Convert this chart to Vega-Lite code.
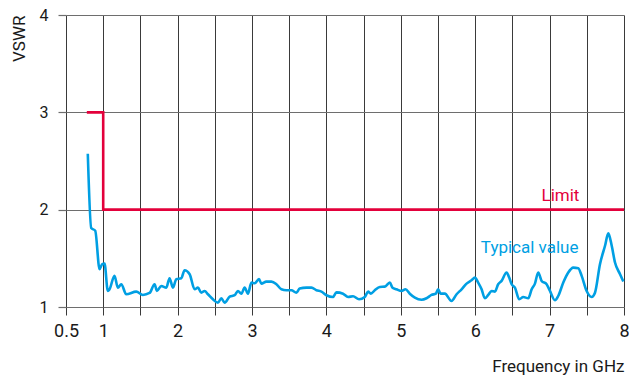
{
  "$schema": "https://vega.github.io/schema/vega-lite/v6.json",
  "width": 558,
  "height": 292,
  "autosize": "none",
  "padding": {"left": 66, "top": 15, "right": 5, "bottom": 68},
  "config": {
    "view": {"stroke": null},
    "font": "Roboto"
  },
  "datasets": {
    "typical": [
      {"f":0.793,"v":2.574},{"f":0.839,"v":1.811},{"f":0.893,"v":1.784},{"f":0.951,"v":1.389},{"f":0.987,"v":1.44},{"f":1.018,"v":1.446},{"f":1.062,"v":1.165},{"f":1.085,"v":1.182},{"f":1.152,"v":1.32},{"f":1.197,"v":1.199},{"f":1.243,"v":1.234},{"f":1.31,"v":1.131},{"f":1.444,"v":1.158},{"f":1.533,"v":1.124},{"f":1.623,"v":1.144},{"f":1.691,"v":1.234},{"f":1.722,"v":1.165},{"f":1.781,"v":1.216},{"f":1.848,"v":1.199},{"f":1.892,"v":1.296},{"f":1.937,"v":1.199},{"f":1.983,"v":1.286},{"f":2.05,"v":1.296},{"f":2.094,"v":1.378},{"f":2.162,"v":1.337},{"f":2.229,"v":1.182},{"f":2.273,"v":1.199},{"f":2.319,"v":1.147},{"f":2.363,"v":1.165},{"f":2.408,"v":1.131},{"f":2.475,"v":1.079},{"f":2.542,"v":1.044},{"f":2.588,"v":1.09},{"f":2.632,"v":1.044},{"f":2.7,"v":1.106},{"f":2.767,"v":1.121},{"f":2.811,"v":1.165},{"f":2.857,"v":1.137},{"f":2.901,"v":1.199},{"f":2.946,"v":1.137},{"f":2.992,"v":1.251},{"f":3.036,"v":1.244},{"f":3.094,"v":1.286},{"f":3.126,"v":1.24},{"f":3.193,"v":1.261},{"f":3.261,"v":1.261},{"f":3.328,"v":1.234},{"f":3.395,"v":1.182},{"f":3.462,"v":1.172},{"f":3.53,"v":1.172},{"f":3.597,"v":1.147},{"f":3.641,"v":1.189},{"f":3.732,"v":1.199},{"f":3.799,"v":1.199},{"f":3.866,"v":1.172},{"f":3.933,"v":1.158},{"f":4.001,"v":1.121},{"f":4.089,"v":1.103},{"f":4.135,"v":1.15},{"f":4.224,"v":1.137},{"f":4.291,"v":1.103},{"f":4.358,"v":1.11},{"f":4.439,"v":1.079},{"f":4.516,"v":1.103},{"f":4.56,"v":1.158},{"f":4.597,"v":1.137},{"f":4.65,"v":1.172},{"f":4.718,"v":1.206},{"f":4.785,"v":1.209},{"f":4.852,"v":1.251},{"f":4.889,"v":1.199},{"f":4.942,"v":1.182},{"f":5.01,"v":1.165},{"f":5.063,"v":1.182},{"f":5.121,"v":1.137},{"f":5.189,"v":1.096},{"f":5.279,"v":1.075},{"f":5.346,"v":1.09},{"f":5.413,"v":1.124},{"f":5.471,"v":1.137},{"f":5.502,"v":1.182},{"f":5.534,"v":1.137},{"f":5.592,"v":1.137},{"f":5.682,"v":1.062},{"f":5.75,"v":1.131},{"f":5.817,"v":1.182},{"f":5.884,"v":1.24},{"f":5.951,"v":1.275},{"f":5.996,"v":1.302},{"f":6.04,"v":1.251},{"f":6.086,"v":1.182},{"f":6.13,"v":1.09},{"f":6.175,"v":1.124},{"f":6.22,"v":1.165},{"f":6.265,"v":1.158},{"f":6.309,"v":1.234},{"f":6.355,"v":1.268},{"f":6.422,"v":1.354},{"f":6.457,"v":1.302},{"f":6.49,"v":1.234},{"f":6.534,"v":1.199},{"f":6.592,"v":1.079},{"f":6.646,"v":1.103},{"f":6.713,"v":1.09},{"f":6.759,"v":1.182},{"f":6.803,"v":1.24},{"f":6.847,"v":1.354},{"f":6.893,"v":1.268},{"f":6.96,"v":1.234},{"f":7.005,"v":1.165},{"f":7.072,"v":1.069},{"f":7.116,"v":1.113},{"f":7.184,"v":1.251},{"f":7.251,"v":1.354},{"f":7.318,"v":1.405},{"f":7.385,"v":1.399},{"f":7.431,"v":1.32},{"f":7.498,"v":1.165},{"f":7.566,"v":1.103},{"f":7.61,"v":1.147},{"f":7.677,"v":1.44},{"f":7.745,"v":1.629},{"f":7.789,"v":1.756},{"f":7.835,"v":1.629},{"f":7.879,"v":1.457},{"f":7.947,"v":1.337},{"f":7.991,"v":1.261}
    ],
    "limit": [
      {"i":0,"f":0.78,"v":3},{"i":1,"f":1.0,"v":3},{"i":2,"f":1.0,"v":2},{"i":3,"f":8.0,"v":2}
    ],
    "labels": [
      {"f":7.146,"v":2.086,"t":"Limit","s":"Limit"},
      {"f":6.732,"v":1.559,"t":"Typical value","s":"Typical"}
    ]
  },
  "layer": [
    {
      "data": {"name": "typical"},
      "mark": {"type": "line", "color": "#009fe3", "strokeWidth": 2.6, "interpolate": "monotone"},
      "encoding": {
        "x": {
          "field": "f", "type": "quantitative",
          "scale": {"domain": [0.5, 8], "nice": false, "zero": false},
          "axis": {
            "values": [0.5,1,1.5,2,2.5,3,3.5,4,4.5,5,5.5,6,6.5,7,7.5,8],
            "tickCount": 40,
            "labelExpr": "indexof([0.5,1,2,3,4,5,6,7,8], datum.value) >= 0 ? format(datum.value, '~g') : ''",
            "labelOverlap": false, "labelFlush": false,
            "grid": true, "gridColor": "#3a3a3a", "gridWidth": 1, "gridOpacity": 1,
            "domain": false, "ticks": true, "tickColor": "#3a3a3a", "tickSize": 8, "tickWidth": 1,
            "labelFontSize": 18, "labelColor": "#1a1a1a", "labelPadding": 7, "labelFont": "Roboto",
            "title": "Frequency in GHz", "titleFontSize": 17, "titleFontWeight": "normal",
            "titleColor": "#1a1a1a", "titleFont": "Roboto",
            "titleAlign": "right", "titleAnchor": "end", "titleBaseline": "alphabetic",
            "titleX": 558, "titleY": 64
          }
        },
        "y": {
          "field": "v", "type": "quantitative",
          "scale": {"domain": [1, 4], "nice": false, "zero": false},
          "axis": {
            "values": [1,2,3,4], "tickCount": 10, "format": "d", "labelOverlap": false, "labelFlush": false,
            "grid": true, "gridColor": "#6e6e6e", "gridWidth": 1.2, "gridOpacity": 1,
            "domain": false, "ticks": true, "tickColor": "#6e6e6e", "tickSize": 8, "tickWidth": 1.2,
            "labelFontSize": 16, "labelColor": "#1a1a1a", "labelPadding": 10, "labelFont": "Roboto",
            "title": "VSWR", "titleFontSize": 17, "titleFontWeight": "normal", "titleColor": "#1a1a1a",
            "titleFont": "Roboto",
            "titleAngle": -90, "titleAlign": "right", "titleBaseline": "alphabetic",
            "titleAnchor": "end", "titleX": -42, "titleY": 0
          }
        }
      }
    },
    {
      "data": {"name": "limit"},
      "mark": {"type": "line", "color": "#e3003b", "strokeWidth": 2.6},
      "encoding": {
        "x": {"field": "f", "type": "quantitative"},
        "y": {"field": "v", "type": "quantitative"},
        "order": {"field": "i", "type": "quantitative"}
      }
    },
    {
      "data": {"name": "labels"},
      "mark": {"type": "text", "fontSize": 17, "align": "center", "baseline": "alphabetic", "font": "Roboto"},
      "encoding": {
        "x": {"field": "f", "type": "quantitative"},
        "y": {"field": "v", "type": "quantitative"},
        "text": {"field": "t", "type": "nominal"},
        "color": {"field": "s", "type": "nominal",
                  "scale": {"domain": ["Limit", "Typical"], "range": ["#e3003b", "#009fe3"]},
                  "legend": null}
      }
    }
  ]
}
